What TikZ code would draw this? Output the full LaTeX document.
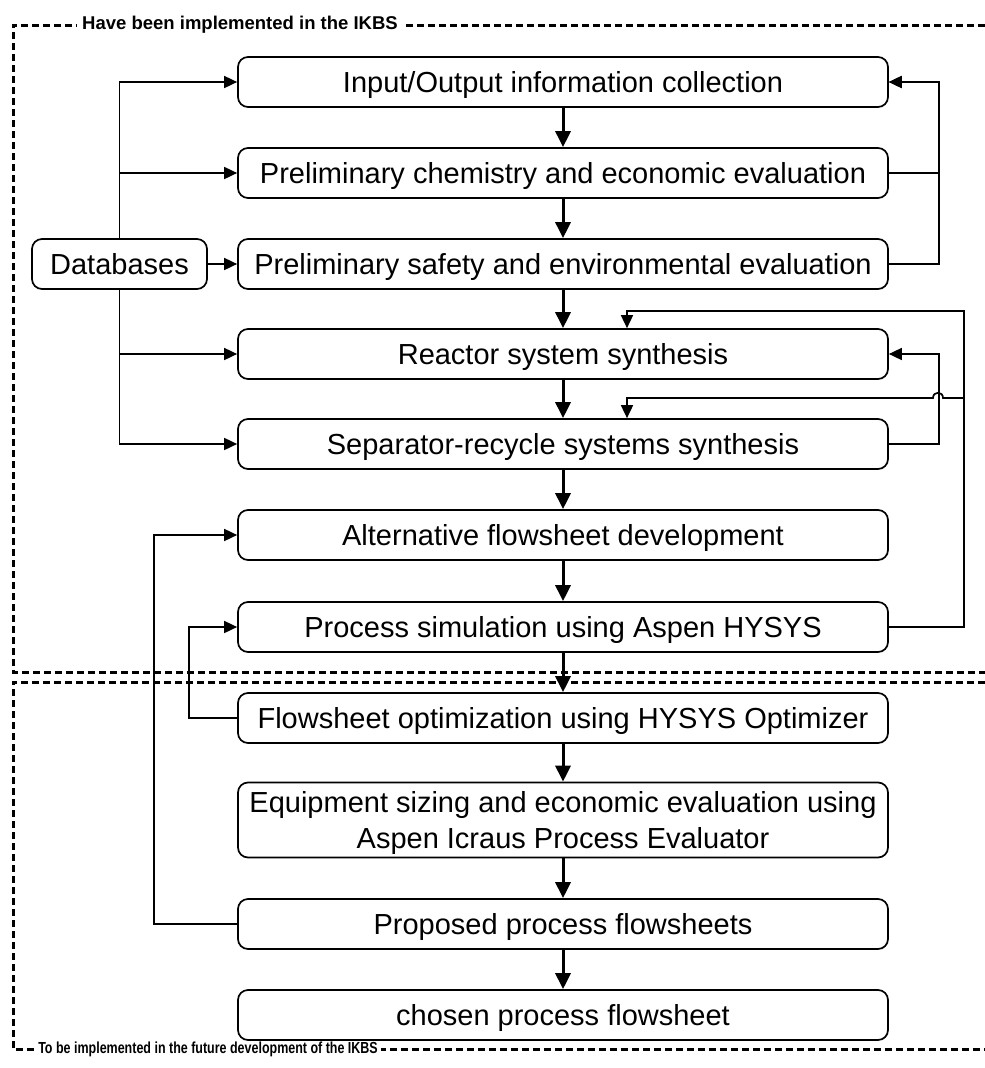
\documentclass[tikz,border=0pt]{standalone}
\usepackage{fontspec}
\setmainfont{Liberation Sans}
\usetikzlibrary{arrows.meta}
\begin{document}
\begin{tikzpicture}[x=1pt,y=-1pt,
  proc/.style={draw, line width=1.7pt, rounded corners=10pt, minimum width=650pt,
    minimum height=50pt, inner sep=0pt, align=center,
    text height=21pt, text depth=0pt,
    font=\fontsize{29}{36}\selectfont},
  flow/.style={line width=3pt, -{Triangle[length=16pt,width=15pt]}},
  fb/.style={line width=1.7pt, -{Triangle[length=13pt,width=12pt]}},
  zone/.style={line width=3pt, dash pattern=on 7pt off 4pt},
  zonelabel/.style={font=\bfseries\fontsize{18.5}{22}\selectfont, fill=white,
    inner xsep=5pt, inner ysep=2pt, anchor=west}]
\useasboundingbox (0,0) rectangle (985,1068);

% dashed zone frames
\draw[zone] (985,25) -- (13,25) -- (13,672) -- (985,672);
\draw[zone] (985,682) -- (13,682) -- (13,1049) -- (985,1049);
\node[zonelabel] (ztop) at (77,25) {Have been implemented in the IKBS};
\node[zonelabel, font=\bfseries\fontsize{16}{18}\selectfont, xscale=0.78, inner xsep=4pt]
  (zbot) at (35,1049) {To be implemented in the future development of the IKBS};

% process steps
\node[proc] (b1)  at (563,82)  {Input/Output information collection};
\node[proc] (b2)  at (563,173) {Preliminary chemistry and economic evaluation};
\node[proc] (b3)  at (563,264) {Preliminary safety and environmental evaluation};
\node[proc] (b4)  at (563,354) {Reactor system synthesis};
\node[proc] (b5)  at (563,444) {Separator-recycle systems synthesis};
\node[proc] (b6)  at (563,535) {Alternative flowsheet development};
\node[proc] (b7)  at (563,627) {Process simulation using Aspen HYSYS};
\node[proc] (b8)  at (563,718) {Flowsheet optimization using HYSYS Optimizer};
\node[proc, minimum height=75pt, text height=, text depth=0pt] (b9) at (563,820)
  {Equipment sizing and economic evaluation using\\Aspen Icraus Process Evaluator};
\node[proc] (b10) at (563,924) {Proposed process flowsheets};
\node[proc] (b11) at (563,1015) {chosen process flowsheet};
\node[proc, minimum width=175pt] (db) at (119.5,264) {Databases};

% main flow
\foreach \a/\b in {b1/b2,b2/b3,b3/b4,b4/b5,b5/b6,b6/b7,b7/b8,b8/b9,b9/b10,b10/b11}
  \draw[flow] (\a) -- (\b);

% database links
\draw[fb] (db.north) |- (b1.west);
\draw[fb] (db.north) |- (b2.west);
\draw[fb] (db.east) -- (b3.west);
\draw[fb] (db.south) |- (b4.west);
\draw[fb] (db.south) |- (b5.west);

% feedback on the right
\coordinate (fx) at (627,0);
\draw[fb] (b2.east) -- ++(50,0) |- (b1.east);
\draw[fb] (b3.east) -- ++(50,0) |- (b1.east);
\draw[fb] (b5.east) -- ++(50,0) |- (b4.east);
\coordinate (rj) at (964,398);
\draw[fb] (b7.east) -- (964,627) -- (964,311) -- (627,311) -- (b4.north -| fx);
\draw[fb] (rj) -- (943,398) .. controls (943,391) and (933,391) .. (933,398)
  -- (627,398) -- (b5.north -| fx);

% feedback on the left
\draw[fb] (b8.west) -- ++(-48,0) |- (b7.west);
\draw[fb] (b10.west) -- ++(-83,0) |- (b6.west);
\end{tikzpicture}
\end{document}
